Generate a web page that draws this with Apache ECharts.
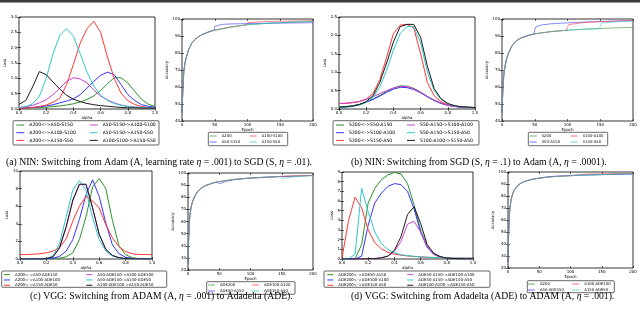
<!DOCTYPE html>
<html><head><meta charset="utf-8">
<script src="https://cdn.jsdelivr.net/npm/echarts@6/dist/echarts.min.js"></script>
<style>html,body{margin:0;padding:0;background:#fff}#c{width:640px;height:315px}</style>
</head><body><div id="c"></div><script>
// ---------- DATA ----------
const alphaVals = [0,0.05,0.1,0.15,0.2,0.25,0.3,0.35,0.4,0.45,0.5,0.55,0.6,0.65,0.7,0.75,0.8,0.85,0.9,0.95,1.0];
const epochs = [0,1,2,3,5,7,10,15,20,25,30,40,49,50,52,60,75,99,100,102,125,149,150,152,175,200];

// (a) NIN Adam -> SGD, loss
const laNames = ['A200<->A50-S150','A200<->A100-S100','A200<->A150-S50','A50-S150->A100-S100','A50-S150->A150-S50','A100-S100->A150-S50'];
const laGreen   = [0.02,0.03,0.04,0.05,0.06,0.08,0.1,0.13,0.17,0.23,0.31,0.43,0.6,0.82,1.02,1.02,0.85,0.58,0.32,0.16,0.08];
const laBlue    = [0.03,0.04,0.05,0.07,0.1,0.14,0.2,0.26,0.33,0.47,0.68,0.9,1.1,1.2,1.12,0.8,0.47,0.28,0.14,0.09,0.06];
const laRed     = [0.02,0.03,0.05,0.08,0.13,0.22,0.35,0.8,1.45,2.15,2.62,2.86,2.5,1.7,1.0,0.52,0.27,0.15,0.08,0.05,0.03];
const laMagenta = [0.04,0.07,0.12,0.2,0.3,0.47,0.68,0.9,1.02,0.98,0.85,0.62,0.42,0.3,0.2,0.13,0.09,0.06,0.05,0.04,0.03];
const laCyan    = [0.05,0.08,0.17,0.42,1.0,1.8,2.4,2.62,2.37,1.8,1.2,0.75,0.45,0.28,0.18,0.12,0.08,0.06,0.05,0.04,0.03];
const laBlack   = [0.15,0.28,0.72,1.22,1.12,0.88,0.65,0.45,0.32,0.24,0.18,0.14,0.11,0.09,0.07,0.05,0.04,0.04,0.03,0.03,0.02];

// (a) accuracy
const aaNames = ['A200','A50-S150','A100-S100','A150-S50'];
const aaGreen = [45,55,64,70,75,78,82,85.8,88,89.5,90.7,92.3,93.4,93.4,93.5,94.2,95.3,96.6,96.6,96.6,97.3,97.8,97.8,97.8,98.2,98.5];
const aaBlue  = [45,55,64,70,75,78,82,85.8,88,89.5,90.7,92.3,93.4,95.5,96.4,96.8,97.1,97.3,97.3,97.3,97.5,97.6,97.6,97.6,97.7,97.8];
const aaRed   = [45,55,64,70,75,78,82,85.8,88,89.5,90.7,92.3,93.4,93.4,93.5,94.2,95.3,96.6,97.8,98.2,98.5,98.7,98.7,98.7,98.8,99.0];
const aaCyan  = [45,55,64,70,75,78,82,85.8,88,89.5,90.7,92.3,93.4,93.4,93.5,94.2,95.3,96.6,96.6,96.6,97.3,97.8,98.2,98.5,98.6,98.7];

// (b) NIN SGD -> Adam, loss
const lbNames = ['S200<->S50-A150','S200<->S100-A100','S200<->S150-A50','S50-A150->S100-A100','S50-A150->S150-A50','S100-A100->S150-A50'];
const lbGreen   = [0.05,0.07,0.09,0.13,0.19,0.27,0.37,0.48,0.57,0.63,0.62,0.56,0.46,0.34,0.24,0.16,0.1,0.07,0.05,0.04,0.04];
const lbBlue    = [0.04,0.06,0.08,0.12,0.18,0.26,0.35,0.45,0.54,0.59,0.58,0.53,0.44,0.33,0.23,0.15,0.1,0.07,0.05,0.04,0.04];
const lbRed     = [0.15,0.15,0.17,0.2,0.27,0.42,0.8,1.4,2.05,2.28,2.3,2.2,1.5,0.72,0.36,0.2,0.12,0.08,0.06,0.05,0.04];
const lbMagenta = [0.15,0.16,0.18,0.21,0.26,0.33,0.42,0.5,0.57,0.61,0.61,0.55,0.45,0.34,0.24,0.16,0.1,0.07,0.05,0.04,0.04];
const lbCyan    = [0.04,0.05,0.07,0.11,0.18,0.32,0.6,1.05,1.6,2.05,2.24,2.24,1.8,1.0,0.5,0.26,0.14,0.09,0.06,0.05,0.04];
const lbBlack   = [0.05,0.06,0.08,0.12,0.2,0.36,0.72,1.25,1.82,2.24,2.3,2.3,1.95,1.16,0.55,0.28,0.15,0.09,0.06,0.05,0.04];

// (b) accuracy
const abNames = ['S200','S50-A150','S100-A100','S150-A50'];
const abGreen = [45,55,63,68,73,76.5,80,84,86.5,88,89,90.3,91.2,91.2,91.3,91.8,92.6,93.4,93.4,93.5,94.0,94.4,94.4,94.4,94.8,95.1];
const abBlue  = [45,55,63,68,73,76.5,80,84,86.5,88,89,90.3,91.2,93.5,95.5,96.5,97.2,97.7,97.7,97.7,98.2,98.5,98.5,98.5,98.8,99.0];
const abRed   = [45,55,63,68,73,76.5,80,84,86.5,88,89,90.3,91.2,91.2,91.3,91.8,92.6,93.4,95.0,96.7,97.9,98.4,98.4,98.5,98.8,99.1];
const abCyan  = [45,55,63,68,73,76.5,80,84,86.5,88,89,90.3,91.2,91.2,91.3,91.8,92.6,93.4,93.4,93.5,94.0,94.4,96.0,97.6,98.4,98.8];

// (c) VGG ADAM -> Adadelta, loss
const lcNames = ['A200<->A50-ADE150','A200<->A100-ADE100','A200<->A150-ADE50','A50-ADE150->A100-ADE100','A50-ADE150->A150-ADE50','A100-ADE100->A150-ADE50'];
const lcGreen   = [0,0,0,0,0.02,0.05,0.1,0.25,0.7,2.2,4.8,8.2,9.15,8.0,4.4,1.5,0.5,0.15,0.05,0.02,0.01];
const lcBlue    = [0,0,0,0,0.03,0.1,0.3,0.9,2.2,4.5,7.3,9.0,7.1,4.1,1.6,0.6,0.2,0.07,0.03,0.01,0.01];
const lcRed     = [0.5,0.5,0.55,0.6,0.7,0.9,1.3,2.3,4.3,6.0,7.1,6.6,5.8,3.9,2.4,1.4,0.85,0.6,0.52,0.5,0.5];
const lcMagenta = [0,0,0,0.01,0.05,0.25,1.25,3.6,6.6,8.45,8.45,5.8,2.8,1.1,0.4,0.15,0.05,0.02,0.01,0.01,0];
const lcCyan    = [0,0,0,0.01,0.05,0.35,1.8,4.8,7.85,8.9,7.8,4.7,2.2,0.9,0.35,0.12,0.05,0.02,0.01,0.01,0];
const lcBlack   = [0,0,0,0.01,0.05,0.25,1.3,3.7,6.7,8.5,8.5,5.8,2.8,1.1,0.4,0.15,0.05,0.02,0.01,0.01,0];

// (c) accuracy
const acNames = ['ADE200','ADE50-A150','ADE100-A100','ADE150-A50'];
const acGreen = [25,45,58,65,72,76,80,84.5,87,88.8,90,91.8,92.8,92.9,93,93.7,94.8,95.8,95.9,95.9,96.6,97.1,97.1,97.1,97.5,97.9];
const acBlue  = [25,45,58,65,72,76,80,84.5,87,88.8,90,91.8,92.8,91.0,91.5,93.0,94.6,95.8,95.9,95.9,96.6,97.1,97.1,97.1,97.5,97.9];
const acRed   = [25,45,58,65,72,76,80,84.5,87,88.8,90,91.8,92.8,92.9,93,93.7,94.8,95.8,94.3,94.7,96.3,97.2,97.2,97.2,97.7,98.1];
const acCyan  = [25,45,58,65,72,76,80,84.5,87,88.8,90,91.8,92.8,92.9,93,93.7,94.8,95.8,95.9,95.9,96.6,97.1,95.4,95.8,97.3,98.0];

// (d) VGG Adadelta -> ADAM, loss
const ldNames = ['ADE200<->ADE50-A150','ADE200<->ADE100-A100','ADE200<->ADE150-A50','ADE50-A150->ADE100-A100','ADE50-A150->ADE150-A50','ADE100-A100->ADE150-A50'];
const ldGreen   = [0,0,0.02,1.5,5.8,7.3,8.2,8.7,8.95,8.8,7.8,5.6,3.0,1.3,0.5,0.2,0.1,0.05,0.03,0.02,0.02];
const ldBlue    = [0,0,0,0.3,3.5,5.8,6.8,7.5,7.8,7.7,7.0,5.2,2.8,1.2,0.5,0.2,0.1,0.05,0.03,0.02,0.02];
const ldRed     = [0.1,4.0,6.4,5.3,3.0,1.7,1.05,0.7,0.5,0.4,0.32,0.26,0.22,0.18,0.15,0.13,0.12,0.1,0.1,0.1,0.1];
const ldMagenta = [0,0,0,0,0.02,0.05,0.12,0.3,0.8,1.8,3.6,3.9,2.8,1.3,0.5,0.2,0.1,0.05,0.03,0.02,0.02];
const ldCyan    = [0,0.02,0.5,7.3,4.9,2.8,1.6,1.0,0.65,0.45,0.35,0.28,0.22,0.18,0.15,0.12,0.1,0.1,0.1,0.08,0.08];
const ldBlack   = [0,0,0,0,0.02,0.05,0.12,0.3,0.9,2.3,4.6,5.4,3.7,1.5,0.6,0.25,0.1,0.05,0.03,0.02,0.02];

// (d) accuracy
const adNames = ['A200','A50-ADE150','A100-ADE100','A150-ADE50'];
const adGreen = [25,48,62,70,77,81,85,88.5,90.5,91.8,92.7,94,94.8,94.8,95,95.5,96.2,96.9,96.9,96.9,97.4,97.8,97.8,97.8,98.1,98.4];
const adBlue  = [25,48,62,70,77,81,85,88.5,90.5,91.8,92.7,94,94.8,95.1,95.3,95.8,96.5,97.1,97.1,97.1,97.5,97.8,97.8,97.8,98.1,98.3];
const adRed   = [25,48,62,70,77,81,85,88.5,90.5,91.8,92.7,94,94.8,94.8,95,95.5,96.2,96.9,97.6,97.9,98.3,98.5,98.5,98.5,98.7,98.9];
const adCyan  = [25,48,62,70,77,81,85,88.5,90.5,91.8,92.7,94,94.8,94.8,95,95.5,96.2,96.9,96.9,96.9,97.4,97.8,98.2,98.4,98.5,98.6];

const captions = [
  '(a) NIN: Switching from Adam (A, learning rate {i|η} = .001) to SGD (S, {i|η} = .01).',
  '(b) NIN: Switching from SGD (S, {i|η} = .1) to Adam (A, {i|η} = .0001).',
  '(c) VGG: Switching from ADAM (A, {i|η} = .001) to Adadelta (ADE).',
  '(d) VGG: Switching from Adadelta (ADE) to ADAM (A, {i|η} = .001).'
];

// ---------- STYLE / LAYOUT ----------
const C = {g:'#2a922a', b:'#3535ff', r:'#ff3535', m:'#cc40cc', c:'#30c8c8', k:'#1a1a1a'};
const LOSS_COLORS = [C.g, C.b, C.r, C.m, C.c, C.k];
const ACC_COLORS = [C.g, C.b, C.r, C.c];
const FONT = 'DejaVu Sans';

const panels = [
  {kind:'loss', grid:{left:19,top:17,width:136,height:92}, ymax:3, yint:0.5, ydec:1, names:laNames, ys:[laGreen,laBlue,laRed,laMagenta,laCyan,laBlack], ynameGap:11, xnameGap:7,
   leg:{x1:16.3,x2:89.7,top:121.15,lh:7.7,fs:4.6,iw:8}, box:[13,120.7,146,24.3]},
  {kind:'acc', grid:{left:182,top:19,width:131,height:102}, ymin:40, names:aaNames, ys:[aaGreen,aaBlue,aaRed,aaCyan], ynameGap:8, xnameGap:4,
   leg:{x1:209.7,x2:249.7,top:133,lh:6,fs:3.8,iw:7}, box:[208.3,132.3,79.4,13.4]},
  {kind:'loss', grid:{left:339,top:17,width:136,height:92}, ymax:2.5, yint:0.5, ydec:1, names:lbNames, ys:[lbGreen,lbBlue,lbRed,lbMagenta,lbCyan,lbBlack], ynameGap:11, xnameGap:7,
   leg:{x1:336,x2:407,top:121.15,lh:7.7,fs:4.6,iw:8}, box:[333,120.7,146,24.3]},
  {kind:'acc', grid:{left:502,top:19,width:131,height:102}, ymin:40, names:abNames, ys:[abGreen,abBlue,abRed,abCyan], ynameGap:8, xnameGap:4,
   leg:{x1:529.7,x2:570.7,top:133,lh:6,fs:3.8,iw:7}, box:[528.3,132.3,79.4,13.4]},
  {kind:'loss', grid:{left:20,top:171,width:132,height:88}, ymax:10, yint:2, ydec:0, names:lcNames, ys:[lcGreen,lcBlue,lcRed,lcMagenta,lcCyan,lcBlack], ynameGap:7, xnameGap:6,
   leg:{x1:4,x2:86.3,top:272,lh:5.3,fs:3.9,iw:6}, box:[1.7,271,165,16.3]},
  {kind:'acc', grid:{left:188,top:173,width:125,height:97}, ymin:20, names:acNames, ys:[acGreen,acBlue,acRed,acCyan], ynameGap:9, xnameGap:4,
   leg:{x1:208,x2:252,top:282,lh:6,fs:3.8,iw:7}, box:[206.7,281.7,88.3,12.6]},
  {kind:'loss', grid:{left:342,top:172,width:131,height:87}, ymax:9, yint:1, ydec:0, names:ldNames, ys:[ldGreen,ldBlue,ldRed,ldMagenta,ldCyan,ldBlack], ynameGap:5, xnameGap:6,
   leg:{x1:327.3,x2:407.3,top:272,lh:5.3,fs:3.9,iw:6}, box:[324,271,166,16.3]},
  {kind:'acc', grid:{left:508,top:172,width:125,height:96}, ymin:20, names:adNames, ys:[adGreen,adBlue,adRed,adCyan], ynameGap:9, xnameGap:4,
   leg:{x1:528,x2:572.3,top:281,lh:6,fs:3.8,iw:7}, box:[527.3,280.7,87,12]}
];

const grid = [], xAxis = [], yAxis = [], series = [], legend = [], graphic = [];

function axis(gi, pos, min, max, interval, showLabel, fmt, name, gap) {
  return {
    type:'value', gridIndex:gi, position:pos, min, max, interval,
    axisLine:{show:false},
    axisTick:{show:true, inside:true, length:2, lineStyle:{color:'#000', width:0.6}},
    axisLabel:{show:showLabel, fontSize:4, color:'#000', margin:2, fontFamily:FONT, formatter:fmt},
    splitLine:{show:false},
    name: showLabel ? name : '', nameLocation:'middle', nameGap:gap,
    nameTextStyle:{fontSize:4, color:'#000', fontFamily:FONT}
  };
}

panels.forEach((p, gi) => {
  grid.push(Object.assign({show:true, borderColor:'#000', borderWidth:0.8, backgroundColor:'transparent'}, p.grid));
  const isLoss = p.kind === 'loss';
  const xs = isLoss ? alphaVals : epochs;
  if (isLoss) {
    const xf = v => v.toFixed(1), yf = v => v.toFixed(p.ydec);
    xAxis.push(axis(gi,'bottom',0,1,0.2,true,xf,'alpha',p.xnameGap));
    xAxis.push(axis(gi,'top',0,1,0.2,false,xf,'',0));
    yAxis.push(axis(gi,'left',0,p.ymax,p.yint,true,yf,'Loss',p.ynameGap));
    yAxis.push(axis(gi,'right',0,p.ymax,p.yint,false,yf,'',0));
  } else {
    const f = v => String(v);
    xAxis.push(axis(gi,'bottom',0,200,50,true,f,'Epoch',p.xnameGap));
    xAxis.push(axis(gi,'top',0,200,50,false,f,'',0));
    yAxis.push(axis(gi,'left',p.ymin,100,10,true,f,'Accuracy',p.ynameGap));
    yAxis.push(axis(gi,'right',p.ymin,100,10,false,f,'',0));
  }
  const colors = isLoss ? LOSS_COLORS : ACC_COLORS;
  p.ys.forEach((ys, si) => {
    series.push({
      type:'line', name:p.names[si], xAxisIndex:2*gi, yAxisIndex:2*gi,
      data: xs.map((x, i) => [x, ys[i]]),
      symbol:'none', showSymbol:false, silent:true, animation:false,
      lineStyle:{width: isLoss ? 1 : 0.9, color: colors[si], opacity: isLoss ? 1 : 0.65},
      itemStyle:{color: colors[si]},
      emphasis:{disabled:true}
    });
  });
  const half = p.names.length / 2;
  [p.names.slice(0, half), p.names.slice(half)].forEach((col, ci) => {
    legend.push({
      orient:'vertical', left: ci === 0 ? p.leg.x1 : p.leg.x2, top: p.leg.top,
      padding:0, itemGap:0, itemWidth:p.leg.iw, itemHeight: isLoss ? 1 : 1.6,
      icon:'rect', selectedMode:false, data: col,
      itemStyle:{opacity: isLoss ? 1 : 0.45, borderWidth:0},
      textStyle:{fontSize:p.leg.fs, lineHeight:p.leg.lh, color:'#000', fontFamily:FONT}
    });
  });
  const b = p.box;
  graphic.push({type:'rect', shape:{x:b[0], y:b[1], width:b[2], height:b[3], r:1},
    style:{fill:'none', stroke:'#000', lineWidth:0.6}, silent:true, z:10});
});

// caption font sized to the measured width of caption (a)
const ctx = document.createElement('canvas').getContext('2d');
ctx.font = '10px "Liberation Serif"';
const capFs = 10 * 307 / ctx.measureText(captions[0].replace(/\{i\|η\}/g,'η')).width;
const capPos = [[6,162],[351,162],[30,296],[351,296]];
captions.forEach((t, i) => {
  graphic.push({type:'text', x:capPos[i][0], y:capPos[i][1], silent:true,
    style:{text:t, fill:'#000', font: capFs.toFixed(2) + 'px "Liberation Serif"', textVerticalAlign:'middle',
      rich:{i:{fontStyle:'italic', fontSize:capFs, fontFamily:'Liberation Serif', fill:'#000'}}}});
});
graphic.push({type:'rect', shape:{x:0,y:0,width:640,height:2.5}, style:{fill:'#3a3a3a'}, silent:true});

const chart = echarts.init(document.getElementById('c'), null, {renderer:'canvas'});
chart.setOption({animation:false, backgroundColor:'#fff', grid, xAxis, yAxis, series, legend, graphic});
</script></body></html>
